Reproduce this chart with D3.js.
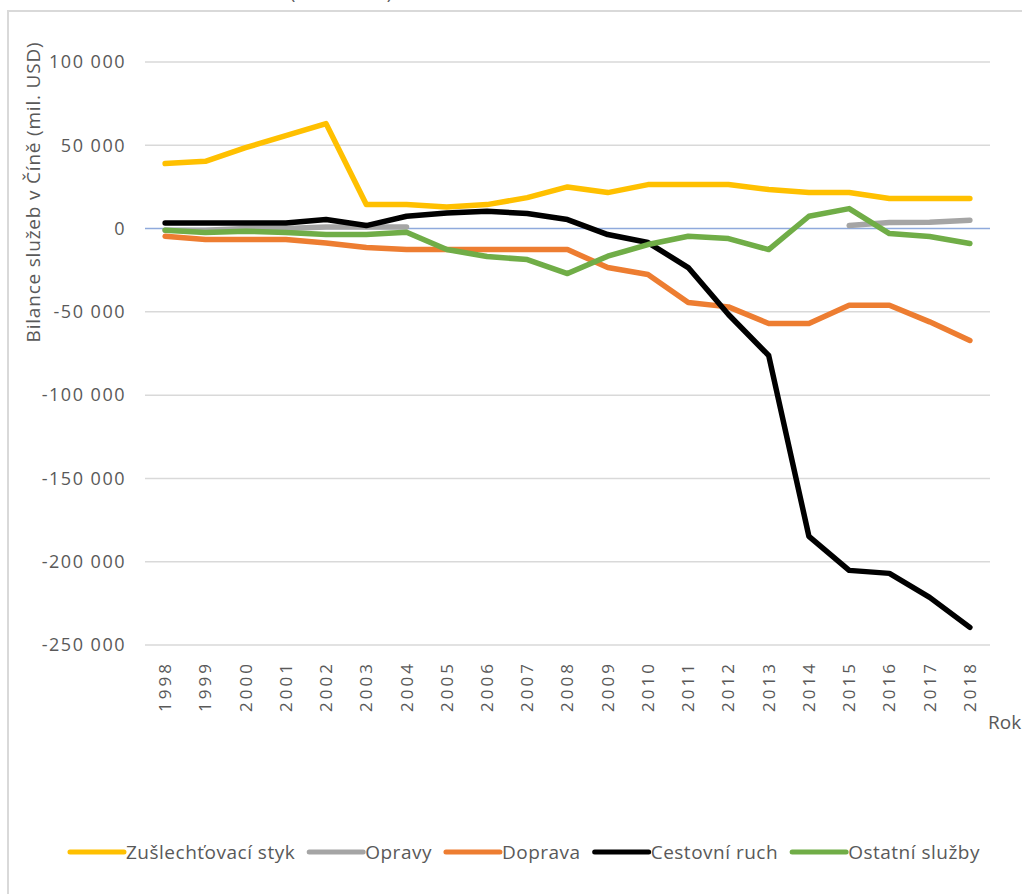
<!DOCTYPE html>
<html>
<head>
<meta charset="utf-8">
<script src="https://cdn.jsdelivr.net/npm/d3@7"></script>
<style>
  body { margin: 0; background: #fff; }
  text { font-family: "Open Sans", "Noto Sans", sans-serif; }
</style>
</head>
<body>
<div id="chart"></div>
<script>
// years on the category axis
const years = ["1998","1999","2000","2001","2002","2003","2004","2005","2006","2007",
  "2008","2009","2010","2011","2012","2013","2014","2015","2016","2017","2018"]

// balance of services, mil. USD (null = no value)
const zuslechtovaci = [39000, 40400, 48600, 55800, 63000, 14400, 14400, 13000, 14400, 18600,
  25000, 21600, 26400, 26400, 26400, 23400, 21600, 21600, 18000, 18000, 18000]
const opravy = [-1000, -1000, 0, 0, 1000, 1000, 1000, null, null, null,
  null, null, null, null, null, null, null, 1800, 3600, 3800, 5000]
const doprava = [-4600, -6600, -6600, -6600, -8600, -11400, -12600, -12600, -12600, -12600,
  -12600, -23400, -27600, -44400, -47000, -57000, -57000, -46000, -46000, -56000, -67200]
const cestovni = [3400, 3400, 3400, 3400, 5400, 1800, 7400, 9400, 10400, 9000,
  5400, -3600, -8400, -23400, -51600, -76200, -184800, -205200, -207000, -221400, -239400]
const ostatni = [-1000, -2400, -1600, -2400, -3600, -3600, -2200, -12600, -16800, -18600,
  -27000, -16600, -9600, -4600, -6000, -12600, 7400, 12000, -3000, -4800, -9000]

const y_ticks = [100000, 50000, 0, -50000, -100000, -150000, -200000, -250000]

const series = [
  { name: "Zušlechťovací styk", values: zuslechtovaci, color: "#FFC000" },
  { name: "Opravy", values: opravy, color: "#A5A5A5" },
  { name: "Doprava", values: doprava, color: "#ED7D31" },
  { name: "Cestovní ruch", values: cestovni, color: "#000000" },
  { name: "Ostatní služby", values: ostatni, color: "#70AD47" }
]

const width = 1022
const height = 894
const label_color = "#595959"

const svg = d3.select("#chart").append("svg")
  .attr("width", width)
  .attr("height", height)

// chart frame (only left and top edges visible in the picture)
svg.append("path")
  .attr("d", "M8,894 L8,11 L1022,11")
  .attr("fill", "none")
  .attr("stroke", "#d9d9d9")
  .attr("stroke-width", 2)

// title, cut off at the top edge like in the source picture
svg.append("text")
  .attr("x", 341)
  .attr("y", -1)
  .attr("text-anchor", "middle")
  .style("font-size", "18px")
  .style("fill", label_color)
  .text("(1998–2018)")

const x = d3.scaleBand().domain(years).range([145, 990])
const y = d3.scaleLinear().domain([-250000, 100000]).range([645, 62])
const cx = d => x(d) + x.bandwidth() / 2

const fmt = d3.formatLocale({ decimal: ",", thousands: " ", grouping: [3], currency: ["", ""], minus: "-" }).format(",")

// gridlines
svg.append("g")
  .selectAll("line")
  .data(y_ticks.filter(t => t !== 0))
  .join("line")
  .attr("x1", 145)
  .attr("x2", 990)
  .attr("y1", d => y(d))
  .attr("y2", d => y(d))
  .attr("stroke", "#d9d9d9")
  .attr("stroke-width", 1.5)

// y tick labels
svg.append("g")
  .selectAll("text")
  .data(y_ticks)
  .join("text")
  .attr("x", 126)
  .attr("y", d => y(d))
  .attr("dy", "0.35em")
  .attr("text-anchor", "end")
  .style("font-size", "18px")
  .style("letter-spacing", "1.5px")
  .style("fill", label_color)
  .text(d => fmt(d))

// y title
svg.append("text")
  .attr("transform", "translate(40,192) rotate(-90)")
  .attr("text-anchor", "middle")
  .style("font-size", "19px")
  .style("letter-spacing", "0.8px")
  .style("fill", label_color)
  .text("Bilance služeb v Číně (mil. USD)")

// x tick labels
svg.append("g")
  .selectAll("text")
  .data(years)
  .join("text")
  .attr("transform", d => `translate(${cx(d)},661) rotate(-90)`)
  .attr("dy", "0.35em")
  .attr("text-anchor", "end")
  .style("font-size", "17px")
  .style("letter-spacing", "3px")
  .style("fill", label_color)
  .text(d => d)

svg.append("text")
  .attr("x", 988)
  .attr("y", 729)
  .style("font-size", "19px")
  .style("fill", label_color)
  .text("Rok")

// zero line
svg.append("line")
  .attr("x1", 145)
  .attr("x2", 990)
  .attr("y1", y(0))
  .attr("y2", y(0))
  .attr("stroke", "#8FAADC")
  .attr("stroke-width", 1.5)

// data lines
const line = d3.line()
  .defined(d => d.v !== null)
  .x(d => cx(d.year))
  .y(d => y(d.v))

series.forEach(s => {
  svg.append("path")
    .datum(years.map((year, i) => ({ year: year, v: s.values[i] })))
    .attr("fill", "none")
    .attr("stroke", s.color)
    .attr("stroke-width", 5.5)
    .attr("stroke-linejoin", "round")
    .attr("stroke-linecap", "round")
    .attr("d", line)
})

// legend
const legend = svg.append("g")
let lx = 0
series.forEach(s => {
  const g = legend.append("g").attr("transform", `translate(${lx},0)`)
  g.append("line")
    .attr("x1", 0).attr("x2", 54)
    .attr("y1", 0).attr("y2", 0)
    .attr("stroke", s.color)
    .attr("stroke-width", 5)
    .attr("stroke-linecap", "round")
  const t = g.append("text")
    .attr("x", 56)
    .attr("dy", "0.35em")
    .style("font-size", "19px")
    .style("letter-spacing", "0.5px")
    .style("fill", label_color)
    .text(s.name)
  lx += 56 + t.node().getComputedTextLength() + 14
})
const legend_width = lx - 14
legend.attr("transform", `translate(${(68 + 982) / 2 - legend_width / 2},852)`)
</script>
</body>
</html>
